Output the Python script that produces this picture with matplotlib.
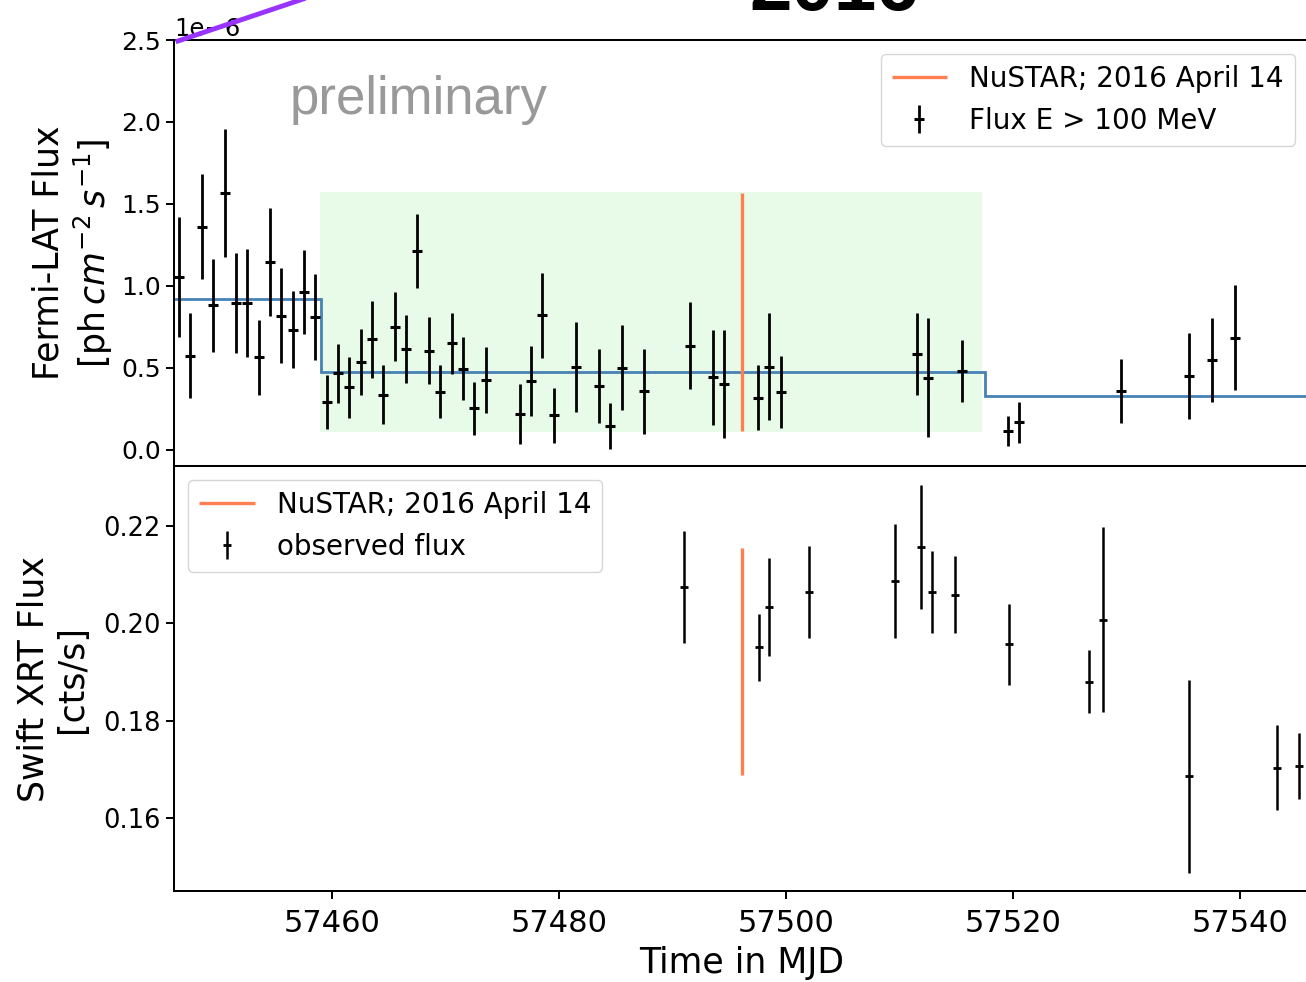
import numpy as np
import matplotlib
matplotlib.use("Agg")
import matplotlib.pyplot as plt
from matplotlib.lines import Line2D
from matplotlib.ticker import MultipleLocator

# Fermi-LAT daily light curve (flux in units of 1e-6 ph cm^-2 s^-1)
lat_mjd = [57446.5, 57447.5, 57448.5, 57449.5, 57450.5, 57451.5, 57452.5, 57453.5,
           57454.5, 57455.5, 57456.5, 57457.5, 57458.5, 57459.5, 57460.5, 57461.5,
           57462.5, 57463.5, 57464.5, 57465.5, 57466.5, 57467.5, 57468.5, 57469.5,
           57470.5, 57471.5, 57472.5, 57473.5, 57476.5, 57477.5, 57478.5, 57479.5,
           57481.5, 57483.5, 57484.5, 57485.5, 57487.5, 57491.5, 57493.5, 57494.5,
           57497.5, 57498.5, 57499.5, 57511.5, 57512.5, 57515.5, 57519.5, 57520.5,
           57529.5, 57535.5, 57537.5, 57539.5]
lat_flux = [1.057, 0.575, 1.360, 0.882, 1.565, 0.898, 0.898, 0.565,
            1.146, 0.819, 0.732, 0.965, 0.813, 0.295, 0.467, 0.382,
            0.537, 0.675, 0.337, 0.752, 0.616, 1.213, 0.606, 0.356,
            0.650, 0.496, 0.254, 0.425, 0.220, 0.421, 0.821, 0.211,
            0.506, 0.390, 0.148, 0.502, 0.358, 0.636, 0.443, 0.404,
            0.319, 0.508, 0.354, 0.587, 0.441, 0.482, 0.118, 0.169,
            0.360, 0.451, 0.549, 0.685]
lat_err = [0.365, 0.260, 0.320, 0.284, 0.390, 0.305, 0.330, 0.230,
           0.330, 0.290, 0.235, 0.256, 0.263, 0.165, 0.180, 0.186,
           0.200, 0.235, 0.180, 0.212, 0.207, 0.228, 0.205, 0.160,
           0.184, 0.190, 0.160, 0.200, 0.183, 0.215, 0.260, 0.170,
           0.272, 0.224, 0.140, 0.258, 0.258, 0.266, 0.290, 0.330,
           0.197, 0.325, 0.220, 0.250, 0.363, 0.190, 0.092, 0.124,
           0.196, 0.261, 0.254, 0.322]

# Bayesian-block levels (1e-6 ph cm^-2 s^-1)
block_edges = [57440.0, 57459.0, 57517.5, 57560.0]
block_flux = [0.921, 0.478, 0.331]

# Shaded interval and NuSTAR pointing
span_mjd = [57458.9, 57517.2]
span_flux = [0.108, 1.571]
nustar_mjd = 57496.05
nustar_lat_range = [0.118, 1.565]
nustar_xrt_range = [0.1688, 0.2155]

# Swift XRT count rates
xrt_mjd = [57490.99, 57497.60, 57498.45, 57501.96, 57509.60, 57511.87, 57512.81,
           57514.89, 57519.60, 57526.64, 57527.93, 57535.51, 57543.26, 57545.15]
xrt_rate = [0.2075, 0.1951, 0.2033, 0.2064, 0.2086, 0.2157, 0.2064,
            0.2059, 0.1957, 0.1880, 0.2007, 0.1686, 0.1703, 0.1707]
xrt_err = [0.0115, 0.0069, 0.0100, 0.0094, 0.0117, 0.0127, 0.0085,
           0.0080, 0.0083, 0.0065, 0.0190, 0.0198, 0.0087, 0.0068]

SCALE = 1e-6
W, H = 1306, 982
fig = plt.figure(figsize=(W / 100, H / 100), dpi=100)

left, right = 174, 1309
ax1 = fig.add_axes([left / W, 1 - 466 / H, (right - left) / W, 426 / H])
ax2 = fig.add_axes([left / W, 1 - 891 / H, (right - left) / W, 425 / H], sharex=ax1)

nustar_color = "#ff7f50"
block_color = "#4682b4"

# --- upper panel: Fermi-LAT ---
ax1.fill_between(span_mjd, span_flux[0] * SCALE, span_flux[1] * SCALE,
                 color="lightgreen", alpha=0.2, linewidth=0, zorder=0)
ax1.stairs(np.array(block_flux) * SCALE, block_edges, baseline=None,
           color=block_color, linewidth=2.0, zorder=2)
h_nu = ax1.vlines(nustar_mjd, nustar_lat_range[0] * SCALE, nustar_lat_range[1] * SCALE,
                  color=nustar_color, linewidth=2.4, zorder=3,
                  label="NuSTAR; 2016 April 14")
h_lat = ax1.errorbar(lat_mjd, np.array(lat_flux) * SCALE, yerr=np.array(lat_err) * SCALE,
                     fmt="_", color="black", ecolor="black", elinewidth=2.0,
                     markersize=6.5, markeredgewidth=2.2, capsize=0, zorder=4,
                     label="Flux E > 100 MeV")
ax1.set_ylim(-0.0976 * SCALE, 2.5 * SCALE)
ax1.yaxis.set_major_locator(MultipleLocator(0.5 * SCALE))
ax1.tick_params(axis="x", bottom=False, labelbottom=False)
ax1.set_ylabel("Fermi-LAT Flux\n[ph$\\,cm^{-2}\\,s^{-1}$]", fontsize=25, labelpad=4)
ax1.yaxis.get_offset_text().set_fontsize(17.5)
ax1.legend(handles=[h_nu, h_lat], loc="upper right", fontsize=20)
ax1.text(0.102, 0.826, "preliminary", transform=ax1.transAxes,
         fontsize=38, color="#999999", family="Liberation Sans", va="baseline")

# --- lower panel: Swift XRT ---
h_nu2 = ax2.vlines(nustar_mjd, nustar_xrt_range[0], nustar_xrt_range[1],
                   color=nustar_color, linewidth=2.4, zorder=3,
                   label="NuSTAR; 2016 April 14")
h_xrt = ax2.errorbar(xrt_mjd, xrt_rate, yerr=xrt_err, fmt="_", color="black",
                     ecolor="black", elinewidth=1.8, markersize=6, markeredgewidth=2.0,
                     capsize=0, zorder=4, label="observed flux")
ax2.set_ylim(0.1450, 0.2323)
ax2.yaxis.set_major_locator(MultipleLocator(0.02))
ax2.set_xlim(57446.05, 57546.05)
ax2.xaxis.set_major_locator(MultipleLocator(20))
ax2.set_ylabel("Swift XRT Flux\n[cts/s]", fontsize=25, labelpad=10)
ax2.set_xlabel("Time in MJD", fontsize=25, labelpad=6)
ax2.legend(handles=[h_nu2, h_xrt], loc="upper left", fontsize=20)

for ax in (ax1, ax2):
    for sp in ax.spines.values():
        sp.set_linewidth(1.45)
    ax.tick_params(length=6, width=1.4)
ax1.tick_params(axis="y", labelsize=18)
ax2.tick_params(axis="y", labelsize=18.5)
ax2.tick_params(axis="x", labelsize=22, pad=7)

# slide heading and accent line
fig.text(834 / W, 1 - 10 / H, "2016", fontsize=55, fontweight="bold",
         family="Liberation Sans", ha="center", va="baseline")
fig.add_artist(Line2D([178 / W, 330 / W], [1 - 41 / H, 1 + 10 / H],
                      transform=fig.transFigure, color="#9933ff", linewidth=3.5))

fig.savefig("out.png", dpi=100)
